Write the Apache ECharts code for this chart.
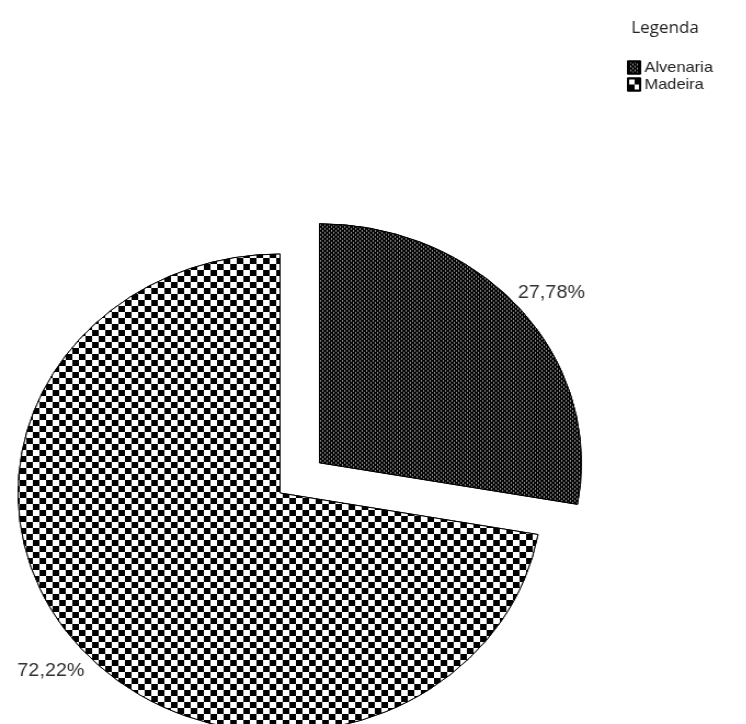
<!DOCTYPE html>
<html>
<head>
<meta charset="utf-8">
<script src="https://cdn.jsdelivr.net/npm/echarts@6/dist/echarts.min.js"></script>
<style>
  html, body { margin: 0; padding: 0; background: #fff; overflow: hidden; }
  #stage { position: relative; width: 746px; height: 724px; overflow: hidden; background: #fff; }
  /* Both layers are drawn narrower and widened, giving the oval pie and wide lettering */
  #pie, #legend { position: absolute; left: 0; top: 0; width: 681px; height: 724px;
                  transform: scaleX(1.096); transform-origin: 0 0; }
  #legend { pointer-events: none; }
</style>
</head>
<body>
<div id="stage">
  <div id="pie"></div>
  <div id="legend"></div>
</div>
<script>
// Wall material shares (percent)
const categories = ['Alvenaria', 'Madeira'];
const shares = [27.78, 72.22];
const legendTitle = 'Legenda';

// Fill patterns per category
const fills = {
  Alvenaria: {
    color: '#000',
    decal: {
      symbol: 'rect', symbolSize: 1, rotation: 0,
      color: '#9a9a9a', backgroundColor: '#000',
      dashArrayX: [[1, 3], [0, 2, 1, 1]], dashArrayY: [2, 0]
    }
  },
  Madeira: {
    color: '#fff',
    decal: {
      symbol: 'rect', symbolSize: 1, rotation: 0,
      color: '#000', backgroundColor: '#fff',
      dashArrayX: [[6, 6], [0, 6, 6, 0]], dashArrayY: [6, 0]
    }
  }
};

// Label nudges so the text sits just beyond the rim
const labelShift = { Alvenaria: [-2, -16], Madeira: [4.5, 24] };
const exploded = { Alvenaria: true, Madeira: false };

const fmt = v => v.toFixed(2).replace('.', ',') + '%';

function styledData() {
  return categories.map((name, i) => ({
    name: name,
    value: shares[i],
    selected: exploded[name],
    itemStyle: {
      color: fills[name].color,
      decal: fills[name].decal,
      borderColor: '#000',
      borderWidth: 1
    }
  }));
}

const pieChart = echarts.init(document.getElementById('pie'), null, { renderer: 'canvas' });
pieChart.setOption({
  animation: false,
  backgroundColor: '#fff',
  aria: { enabled: false },
  series: [{
    type: 'pie',
    center: [255.5, 493],
    radius: 239,
    startAngle: 90,
    clockwise: true,
    selectedMode: 'single',
    selectedOffset: 47,
    avoidLabelOverlap: false,
    emphasis: { disabled: true },
    select: { itemStyle: { borderColor: '#000', borderWidth: 1 } },
    label: {
      show: true,
      position: 'outside',
      distanceToLabelLine: 0,
      formatter: p => fmt(p.value),
      fontFamily: 'Liberation Sans, Arial, sans-serif',
      fontSize: 18,
      color: '#333'
    },
    labelLine: { show: false, length: 0, length2: 0 },
    labelLayout: p => {
      const s = labelShift[categories[p.dataIndex]];
      return { dx: s[0], dy: s[1] };
    },
    data: styledData()
  }]
});

const legendChart = echarts.init(document.getElementById('legend'), null, { renderer: 'canvas' });
legendChart.setOption({
  animation: false,
  title: {
    text: legendTitle,
    left: 571,
    top: 16,
    textStyle: {
      fontFamily: 'Open Sans, sans-serif',
      fontSize: 15.5,
      fontWeight: 'normal',
      color: '#222'
    }
  },
  legend: {
    orient: 'vertical',
    left: 572,
    top: 60,
    padding: 0,
    itemWidth: 11,
    itemHeight: 12,
    itemGap: 2,
    selectedMode: false,
    icon: 'rect',
    textStyle: {
      fontFamily: 'Liberation Sans, Arial, sans-serif',
      fontSize: 15,
      color: '#222',
      padding: [0, 0, 0, -1]
    },
    data: categories
  },
  series: [{
    type: 'pie',
    center: [-100, -100],
    radius: 1,
    silent: true,
    label: { show: false },
    labelLine: { show: false },
    data: styledData()
  }]
});
</script>
</body>
</html>
